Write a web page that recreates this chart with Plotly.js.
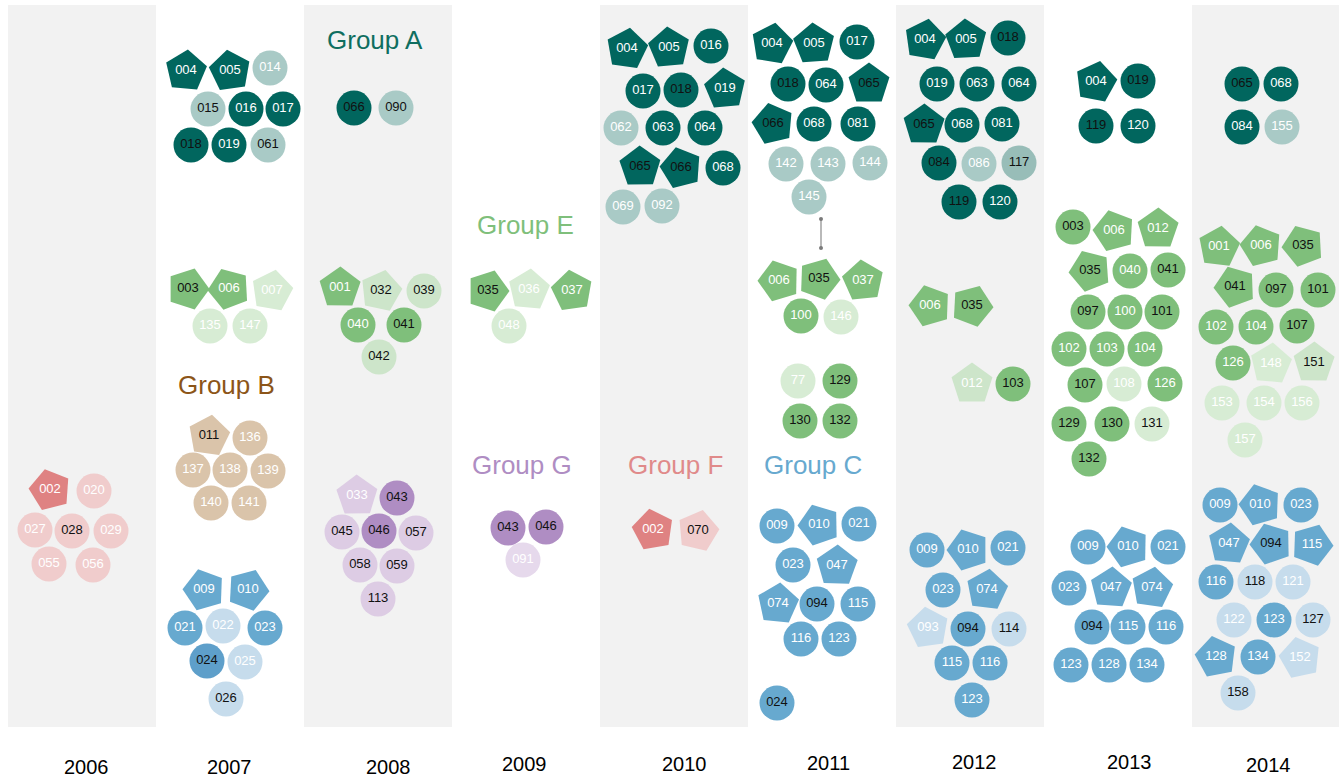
<!DOCTYPE html>
<html><head><meta charset="utf-8">
<script src="https://cdn.plot.ly/plotly-3.0.1.min.js"></script>
<style>html,body{margin:0;padding:0;background:#fff}#chart{width:1339px;height:779px}</style>
</head><body><div id="chart"></div>
<script>
// years and their columns
const years = ["2006","2007","2008","2009","2010","2011","2012","2013","2014"];
const yearLabelX = [86,229,388,524,684,828,974,1129,1268];
const yearLabelY = [767,767,767,764,764,763,762,762,765];

// node rows: [id, x, y, shape(c=circle,p=pentagon), tone, text(w/k)]
const col2006 = [
 ["002",50,490,"p","F","w"],["020",94,491,"c","f","w"],["027",35,530,"c","f","w"],
 ["028",72,531,"c","f","k"],["029",111,531,"c","f","w"],["055",49,564,"c","f","w"],["056",93,565,"c","f","w"]
];
const col2007 = [
 ["004",186,71,"p","A","w"],["005",230,71,"p","A","w"],["014",270,68,"c","a","w"],
 ["015",208,109,"c","a","k"],["016",246,109,"c","A","w"],["017",283,109,"c","A","w"],
 ["018",191,145,"c","A","k"],["019",229,145,"c","A","w"],["061",268,145,"c","a","k"],
 ["003",188,289,"p","E","k"],["006",229,289,"p","E","w"],["007",272,291,"p","e2","w"],
 ["135",210,326,"c","e2","w"],["147",250,326,"c","e2","w"],
 ["011",209,436,"p","B","k"],["136",250,438,"c","B","w"],["137",193,470,"c","B","w"],
 ["138",230,470,"c","B","w"],["139",268,471,"c","B","w"],["140",211,503,"c","B","w"],["141",249,503,"c","B","w"],
 ["009",204,590,"p","C","w"],["010",248,590,"p","C","w"],["021",185,628,"c","C","w"],
 ["022",223,626,"c","c","w"],["023",265,628,"c","C","w"],["024",207,661,"c","C2","k"],
 ["025",245,662,"c","c","w"],["026",226,699,"c","c","k"]
];
const col2008 = [
 ["066",354,108,"c","A","k"],["090",396,108,"c","a","k"],
 ["001",340,288,"p","E","w"],["032",381,291,"p","e","k"],["039",424,291,"c","e","k"],
 ["040",358,325,"c","E","w"],["041",404,325,"c","E","k"],["042",379,357,"c","e","k"],
 ["033",357,496,"p","g","w"],["043",397,498,"c","G","k"],["045",342,532,"c","g","k"],
 ["046",379,531,"c","G","k"],["057",416,533,"c","g","k"],["058",360,565,"c","g","k"],
 ["059",397,566,"c","g","k"],["113",378,599,"c","g","k"]
];
const col2009 = [
 ["035",488,291,"p","E","k"],["036",529,290,"p","e2","w"],["037",572,291,"p","E","w"],
 ["048",509,326,"c","e2","w"],
 ["043",508,528,"c","G","k"],["046",546,527,"c","G","k"],["091",523,560,"c","g2","w"]
];
const col2010 = [
 ["004",627,49,"p","A","w"],["005",669,48,"p","A","w"],["016",711,46,"c","A","w"],
 ["017",643,91,"c","A","w"],["018",681,90,"c","A","k"],["019",725,89,"p","A","w"],
 ["062",621,128,"c","a","w"],["063",663,128,"c","A","w"],["064",705,128,"c","A","w"],
 ["065",640,167,"p","A","k"],["066",681,168,"p","A","k"],["068",723,168,"c","A","w"],
 ["069",623,207,"c","a","w"],["092",662,206,"c","a","w"],
 ["002",653,530,"p","F","w"],["070",698,531,"p","f","k"]
];
const col2011 = [
 ["004",772,44,"p","A","w"],["005",814,44,"p","A","w"],["017",857,42,"c","A","w"],
 ["018",788,84,"c","A","k"],["064",826,85,"c","A","w"],["065",869,84,"p","A","k"],
 ["066",773,124,"p","A","k"],["068",814,124,"c","A","w"],["081",858,124,"c","A","w"],
 ["142",786,164,"c","a","w"],["143",828,164,"c","a","w"],["144",870,163,"c","a","w"],
 ["145",809,197,"c","a","w"],
 ["006",779,281,"p","E","w"],["035",819,279,"p","E","k"],["037",863,281,"p","E","w"],
 ["100",801,316,"c","E","w"],["146",841,317,"c","e2","w"],
 ["77",798,381,"c","e2","w"],["129",840,381,"c","E","k"],["130",800,421,"c","E","k"],["132",840,421,"c","E","k"],
 ["009",777,526,"c","C","w"],["010",819,525,"p","C","w"],["021",859,524,"c","C","w"],
 ["023",793,565,"c","C","w"],["047",837,566,"p","C","w"],["074",778,604,"p","C","w"],
 ["094",817,604,"c","C","k"],["115",858,604,"c","C","w"],["116",801,639,"c","C","w"],
 ["123",839,639,"c","C","w"],["024",777,703,"c","C","k"]
];
const col2012 = [
 ["004",925,40,"p","A","w"],["005",966,40,"p","A","w"],["018",1008,38,"c","A","k"],
 ["019",937,84,"c","A","w"],["063",977,84,"c","A","w"],["064",1019,84,"c","A","w"],
 ["065",924,125,"p","A","k"],["068",962,125,"c","A","w"],["081",1002,124,"c","A","w"],
 ["084",939,163,"c","A","k"],["086",979,164,"c","a","w"],["117",1019,163,"c","a2","k"],
 ["119",959,202,"c","A","k"],["120",1000,202,"c","A","w"],
 ["006",930,306,"p","E","w"],["035",972,306,"p","E","k"],
 ["012",972,384,"p","e","w"],["103",1013,384,"c","E","k"],
 ["009",927,550,"c","C","w"],["010",968,550,"p","C","w"],["021",1008,548,"c","C","w"],
 ["023",943,590,"c","C","w"],["074",987,590,"p","C","w"],["093",928,628,"p","c","w"],
 ["094",968,629,"c","C","k"],["114",1009,629,"c","c","k"],["115",952,663,"c","C","w"],
 ["116",990,663,"c","C","w"],["123",972,700,"c","C","w"]
];
const col2013 = [
 ["004",1096,82,"p","A","w"],["019",1138,81,"c","A","k"],["119",1096,126,"c","A","k"],["120",1138,126,"c","A","w"],
 ["003",1073,227,"c","E","k"],["006",1114,231,"p","E","w"],["012",1158,229,"p","E","w"],
 ["035",1090,271,"p","E","k"],["040",1130,271,"c","E","w"],["041",1168,270,"c","E","k"],
 ["097",1088,312,"c","E","k"],["100",1125,312,"c","E","w"],["101",1162,312,"c","E","k"],
 ["102",1069,349,"c","E","w"],["103",1107,349,"c","E","w"],["104",1145,349,"c","E","w"],
 ["107",1085,385,"c","E","k"],["108",1124,384,"c","e2","w"],["126",1165,384,"c","E","w"],
 ["129",1069,424,"c","E","k"],["130",1112,424,"c","E","k"],["131",1152,424,"c","e2","k"],
 ["132",1089,459,"c","E","k"],
 ["009",1088,547,"c","C","w"],["010",1128,547,"p","C","w"],["021",1168,547,"c","C","w"],
 ["023",1069,588,"c","C","w"],["047",1111,588,"p","C","w"],["074",1152,588,"p","C","w"],
 ["094",1092,627,"c","C","k"],["115",1128,627,"c","C","w"],["116",1166,627,"c","C","w"],
 ["123",1071,665,"c","C","w"],["128",1109,665,"c","C","w"],["134",1147,665,"c","C","w"]
];
const col2014 = [
 ["065",1242,84,"c","A","k"],["068",1281,84,"c","A","w"],["084",1242,127,"c","A","w"],["155",1282,127,"c","a","w"],
 ["001",1219,247,"p","E","w"],["006",1261,246,"p","E","w"],["035",1303,246,"p","E","k"],
 ["041",1235,287,"p","E","k"],["097",1276,290,"c","E","k"],["101",1318,290,"c","E","k"],
 ["102",1216,327,"c","E","w"],["104",1256,327,"c","E","w"],["107",1297,326,"c","E","k"],
 ["126",1233,363,"c","E","w"],["148",1271,364,"p","e2","w"],["151",1314,363,"p","e","k"],
 ["153",1222,403,"c","e2","w"],["154",1264,403,"c","e2","w"],["156",1302,403,"c","e2","w"],
 ["157",1245,440,"c","e2","w"],
 ["009",1220,505,"c","C","w"],["010",1260,505,"p","C","w"],["023",1301,505,"c","C","w"],
 ["047",1229,544,"p","C","w"],["094",1271,544,"p","C","k"],["115",1312,545,"p","C","w"],
 ["116",1216,582,"c","C","w"],["118",1255,582,"c","c","k"],["121",1293,582,"c","c","w"],
 ["122",1234,620,"c","c","w"],["123",1274,620,"c","C","w"],["127",1313,620,"c","c","k"],
 ["128",1216,657,"p","C","w"],["134",1258,657,"c","C","w"],["152",1300,658,"p","c","w"],
 ["158",1238,693,"c","c","k"]
];
const columns = [col2006,col2007,col2008,col2009,col2010,col2011,col2012,col2013,col2014];

// group titles
const groupNames = ["Group A","Group B","Group E","Group G","Group F","Group C"];
const groupX = [375,226,525,522,675,813];
const groupY = [40,385,225,465,465,465];
const groupColors = ["#0f6e60","#8c5518","#7fbf7b","#af8dc3","#e08a8a","#67a9cf"];

// link in 2011
const linkX = [821,821];
const linkY = [219,248];

const tones = {
 A:"#01665e", a:"#a9cac6", a2:"#98bdb8",
 E:"#7fbf7b", e:"#cde5ca", e2:"#d7ecd4",
 B:"#dac4aa",
 C:"#67a9cf", C2:"#5e9fca", c:"#c6dcec",
 G:"#af8dc3", g:"#ddcce4", g2:"#e6d9ec",
 F:"#df8282", f:"#f0cccc"
};

const xs=[],ys=[],txt=[],sym=[],col=[],tcol=[],sz=[],ang=[];
columns.forEach((c,ci)=>{
  c.forEach(r=>{
    xs.push(r[1]); ys.push(r[2]); txt.push(r[0]);
    const p = r[3]==="p";
    sym.push(p?"pentagon":"circle");
    sz.push(p?43:35);
    let h=0; for(const ch of r[0]+ci) h=(h*31+ch.charCodeAt(0))%997;
    ang.push(p ? (h%44)-22 : 0);
    col.push(tones[r[4]]);
    tcol.push(r[5]==="w"?"#ffffff":"#111111");
  });
});

const shapes = [];
years.forEach((y,i)=>{
  if(i%2===0) shapes.push({type:"rect",xref:"x",yref:"y",x0:8+148*i,x1:8+148*(i+1),y0:5,y1:727,
    fillcolor:"#f2f2f2",line:{width:0},layer:"below"});
});

const annotations = [];
years.forEach((y,i)=>annotations.push({x:yearLabelX[i],y:yearLabelY[i],xref:"x",yref:"y",text:y,showarrow:false,
  font:{family:"Liberation Sans, Arial, sans-serif",size:20,color:"#000"}}));
groupNames.forEach((g,i)=>annotations.push({x:groupX[i],y:groupY[i],xref:"x",yref:"y",text:g,showarrow:false,
  font:{family:"Liberation Sans, Arial, sans-serif",size:26,color:groupColors[i]}}));

const traces = [
 {x:linkX,y:linkY,mode:"lines+markers",line:{color:"#8a8a8a",width:1.2},marker:{size:4,color:"#7a7a7a"},hoverinfo:"skip"},
 {x:xs,y:ys,text:txt,mode:"markers+text",textposition:"middle center",
  marker:{symbol:sym,size:sz,color:col,angle:ang,line:{width:0},opacity:1},
  textfont:{family:"Liberation Sans, Arial, sans-serif",size:13,color:tcol},hoverinfo:"text"}
];

Plotly.newPlot("chart",traces,{
  width:1339,height:779,margin:{l:0,r:0,t:0,b:0},
  paper_bgcolor:"#ffffff",plot_bgcolor:"#ffffff",showlegend:false,
  xaxis:{range:[0,1339],visible:false,fixedrange:true},
  yaxis:{range:[779,0],visible:false,fixedrange:true},
  shapes:shapes,annotations:annotations
},{displayModeBar:false,staticPlot:true});
</script></body></html>
